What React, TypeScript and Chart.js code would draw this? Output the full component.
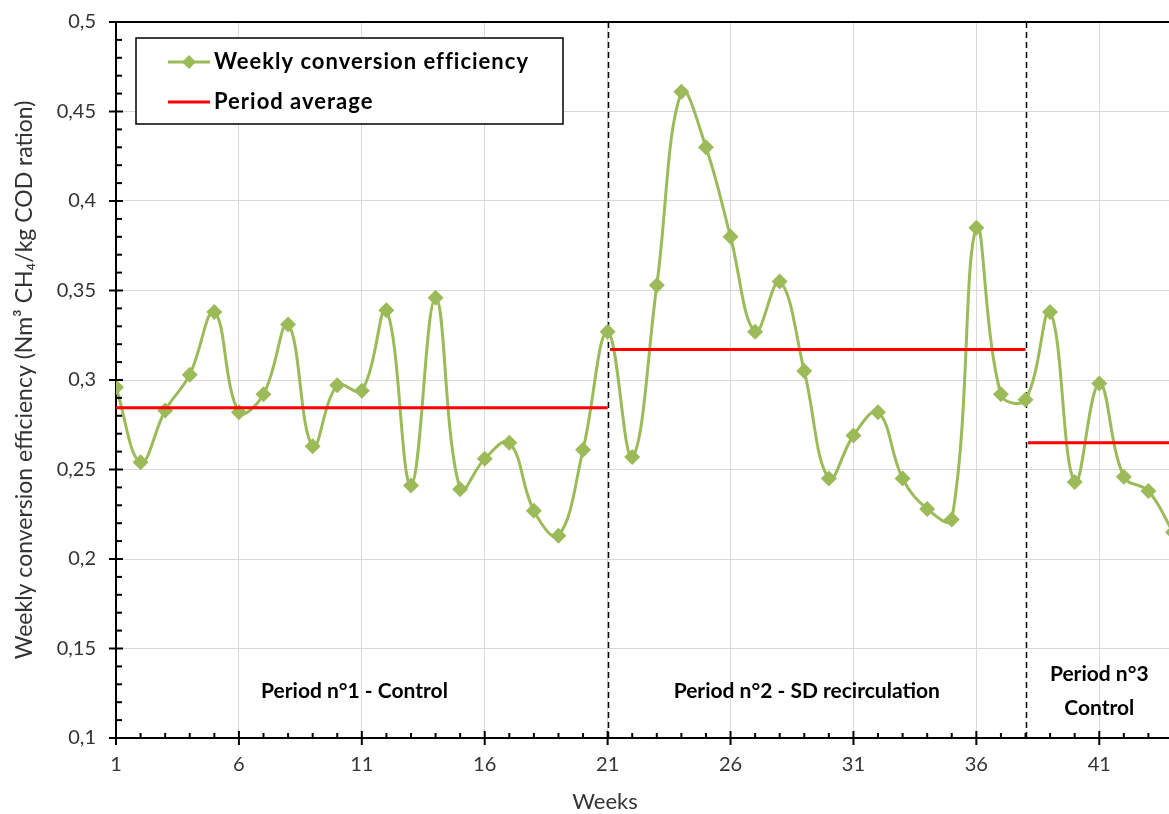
import { useEffect, useRef } from "react";
import { Chart, registerables } from "chart.js";

Chart.register(...registerables);

const weeks = [
  1, 2, 3, 4, 5, 6, 7, 8, 9, 10, 11, 12, 13, 14, 15, 16, 17, 18, 19, 20, 21, 22,
  23, 24, 25, 26, 27, 28, 29, 30, 31, 32, 33, 34, 35, 36, 37, 38, 39, 40, 41, 42, 43, 44,
];
const efficiency = [
  0.296, 0.254, 0.283, 0.303, 0.338, 0.282, 0.292, 0.331, 0.263, 0.297, 0.294,
  0.339, 0.241, 0.346, 0.239, 0.256, 0.265, 0.227, 0.213, 0.261, 0.327, 0.257,
  0.353, 0.461, 0.43, 0.38, 0.327, 0.355, 0.305, 0.245, 0.269, 0.282, 0.245,
  0.228, 0.222, 0.385, 0.292, 0.289, 0.338, 0.243, 0.298, 0.246, 0.238, 0.215,
];
const periodStart = [1, 21.1, 38.1];
const periodEnd = [21, 38, 44];
const periodAverage = [0.2845, 0.317, 0.265];
const periodBoundaries = [21, 38];
const periodLabels = [["Period n°1 - Control"], ["Period n°2 - SD recirculation"], ["Period n°3", "Control"]];
const periodLabelWeek = [10.7, 29.1, 41];
const xTickValues = [1, 6, 11, 16, 21, 26, 31, 36, 41];
const yTickValues = [0.1, 0.15, 0.2, 0.25, 0.3, 0.35, 0.4, 0.45, 0.5];

const GREEN = "#9bbb59";
const RED = "#ff0000";
const TEXT = "#333333";
const FONT = "Lato, 'Open Sans', sans-serif";

function fmt(v: number) {
  const r = Math.round(v * 100) / 100;
  return String(r).replace(".", ",");
}

function drawDiamond(ctx: CanvasRenderingContext2D, x: number, y: number, r: number) {
  ctx.beginPath();
  ctx.moveTo(x, y - r);
  ctx.lineTo(x + r, y);
  ctx.lineTo(x, y + r);
  ctx.lineTo(x - r, y);
  ctx.closePath();
  ctx.fill();
}

const overlay = {
  id: "overlay",
  beforeDatasetsDraw(chart: any) {
    const { ctx, chartArea } = chart;
    const xs = chart.scales.x;
    ctx.save();
    ctx.strokeStyle = "#000";
    ctx.lineWidth = 1.5;
    ctx.setLineDash([6, 4]);
    periodBoundaries.forEach((w) => {
      const px = Math.round(xs.getPixelForValue(w)) + 0.5;
      ctx.beginPath();
      ctx.moveTo(px, chartArea.top);
      ctx.lineTo(px, chartArea.bottom);
      ctx.stroke();
    });
    ctx.restore();
  },
  afterDraw(chart: any) {
    const { ctx, chartArea } = chart;
    const xs = chart.scales.x;
    const ys = chart.scales.y;
    ctx.save();
    // top border
    ctx.strokeStyle = "#000";
    ctx.lineWidth = 2;
    ctx.beginPath();
    ctx.moveTo(chartArea.left, chartArea.top);
    ctx.lineTo(chartArea.right, chartArea.top);
    ctx.stroke();
    // x ticks
    weeks.forEach((w) => {
      const px = xs.getPixelForValue(w);
      const major = xTickValues.includes(w);
      ctx.beginPath();
      ctx.moveTo(px, chartArea.bottom - (major ? 7 : 5));
      ctx.lineTo(px, chartArea.bottom + (major ? 7 : 0));
      ctx.stroke();
    });
    // y ticks
    for (let i = 10; i <= 50; i++) {
      const v = i / 100;
      const py = ys.getPixelForValue(v);
      const major = i % 5 === 0;
      ctx.beginPath();
      ctx.moveTo(chartArea.left - (major ? 7 : 0), py);
      ctx.lineTo(chartArea.left + (major ? 7 : 6), py);
      ctx.stroke();
    }
    // x title
    ctx.fillStyle = TEXT;
    ctx.font = `22px ${FONT}`;
    ctx.textAlign = "center";
    ctx.textBaseline = "middle";
    ctx.fillText("Weeks", 605, 802);
    // period labels
    ctx.fillStyle = "#000";
    ctx.font = `bold 21px ${FONT}`;
    periodLabels.forEach((lines, i) => {
      const px = xs.getPixelForValue(periodLabelWeek[i]);
      const n = lines.length;
      lines.forEach((t, j) => {
        const py = 691 + (j - (n - 1) / 2) * 34;
        ctx.fillText(t, px, py);
      });
    });
    // legend
    ctx.fillStyle = "#fff";
    ctx.fillRect(136, 38, 427, 86);
    ctx.strokeStyle = "#000";
    ctx.lineWidth = 1.5;
    ctx.strokeRect(136, 38, 427, 86);
    ctx.lineWidth = 3;
    ctx.strokeStyle = GREEN;
    ctx.beginPath();
    ctx.moveTo(168, 62);
    ctx.lineTo(210, 62);
    ctx.stroke();
    ctx.fillStyle = GREEN;
    drawDiamond(ctx, 189, 62, 7);
    ctx.strokeStyle = RED;
    ctx.beginPath();
    ctx.moveTo(168, 102);
    ctx.lineTo(210, 102);
    ctx.stroke();
    ctx.fillStyle = "#000";
    ctx.textAlign = "left";
    ctx.font = `bold 22px ${FONT}`;
    (ctx as any).letterSpacing = "1px";
    ctx.fillText("Weekly conversion efficiency", 214, 62);
    ctx.fillText("Period average", 214, 102);
    (ctx as any).letterSpacing = "0px";
    ctx.restore();
  },
};

export default function App() {
  const ref = useRef<HTMLCanvasElement>(null);
  useEffect(() => {
    if (!ref.current) return;
    const avgSets = periodAverage.map((v, i) => ({
      label: "Period average",
      data: [
        { x: periodStart[i], y: v },
        { x: periodEnd[i], y: v },
      ],
      borderColor: RED,
      backgroundColor: RED,
      borderWidth: 3,
      pointRadius: 0,
      tension: 0,
    }));
    const chart = new Chart(ref.current, {
      type: "line",
      data: {
        datasets: [
          ...avgSets,
          {
            label: "Weekly conversion efficiency",
            data: weeks.map((w, i) => ({ x: w, y: efficiency[i] })),
            borderColor: GREEN,
            backgroundColor: GREEN,
            borderWidth: 3,
            pointStyle: "rectRot",
            pointRadius: 8,
            pointBorderWidth: 0,
            tension: 0.4,
          },
        ],
      },
      options: {
        responsive: false,
        animation: false,
        layout: { padding: { top: 22, left: 0, right: 0, bottom: 0 } },
        plugins: { legend: { display: false }, tooltip: { enabled: false } },
        scales: {
          x: {
            type: "linear",
            min: 1,
            max: 44,
            afterBuildTicks: (s: any) => {
              s.ticks = xTickValues.map((v) => ({ value: v }));
            },
            afterFit: (s: any) => {
              s.height = 76;
              s.paddingLeft = 0;
              s.paddingRight = 0;
            },
            grid: { color: "#d9d9d9", lineWidth: 1, drawTicks: false },
            border: { color: "#000", width: 2 },
            ticks: {
              padding: 15,
              color: TEXT,
              font: { size: 20, family: FONT },
              maxRotation: 0,
              autoSkip: false,
            },
          },
          y: {
            min: 0.1,
            max: 0.5,
            afterBuildTicks: (s: any) => {
              s.ticks = yTickValues.map((v) => ({ value: v }));
            },
            afterFit: (s: any) => {
              s.width = 116;
              s.paddingTop = 0;
              s.paddingBottom = 0;
            },
            grid: { color: "#d9d9d9", lineWidth: 1, drawTicks: false },
            border: { color: "#000", width: 2 },
            ticks: {
              padding: 20,
              color: TEXT,
              font: { size: 20, family: FONT },
              callback: (v: any) => fmt(Number(v)),
            },
            title: {
              display: true,
              text: "Weekly conversion efficiency (Nm³ CH₄/kg COD ration)",
              color: TEXT,
              font: { size: 23, family: FONT },
              padding: { top: 11, bottom: 0 },
            },
          },
        },
      },
      plugins: [overlay],
    } as any);
    return () => chart.destroy();
  }, []);
  return (
    <div style={{ position: "fixed", left: 0, top: 0, width: 1169, height: 814, overflow: "hidden", background: "#fff" }}>
      <canvas ref={ref} width={1181} height={814} style={{ display: "block", width: 1181, height: 814 }} />
    </div>
  );
}
